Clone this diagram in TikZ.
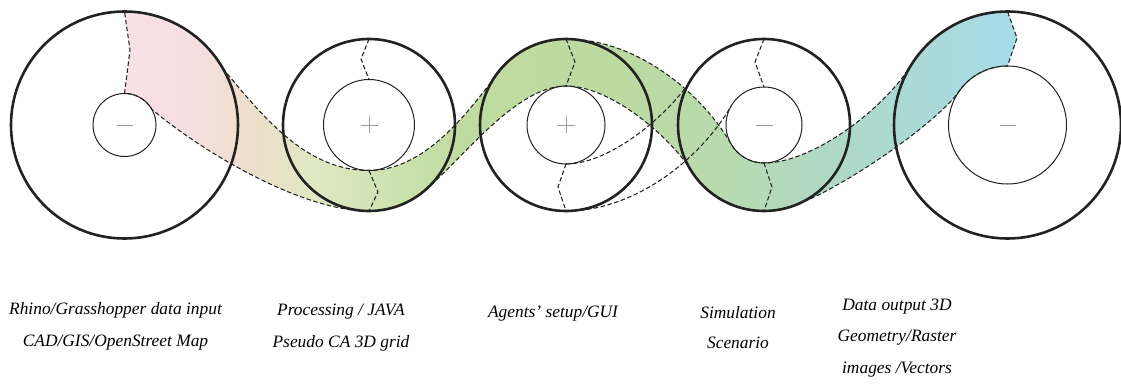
\documentclass[tikz,border=0pt]{standalone}
\usepackage{fontspec}
\setmainfont{Liberation Serif}
\definecolor{g0}{HTML}{F9E0EA}
\definecolor{g1}{HTML}{F6DFE2}
\definecolor{g2}{HTML}{EEDECB}
\definecolor{g3}{HTML}{E0E8C4}
\definecolor{g4}{HTML}{CFE4B2}
\definecolor{g5}{HTML}{C0DBA0}
\definecolor{g6}{HTML}{BCDAA0}
\definecolor{g7}{HTML}{B8DAAE}
\definecolor{g8}{HTML}{B0D9C4}
\definecolor{g9}{HTML}{AAD9D6}
\definecolor{g10}{HTML}{A6DBEB}
\definecolor{ink}{HTML}{222222}
\begin{document}
\begin{tikzpicture}[x=1pt,y=-1pt,
  outerring/.style={line width=2.6pt, draw=ink},
  innerring/.style={line width=1pt, draw=ink},
  dsh/.style={line width=1.05pt, draw=ink, dash pattern=on 4.5pt off 2.5pt},
  marker/.style={line width=0.8pt, draw=black!40},
  lbl/.style={font=\fontsize{17.4}{20}\selectfont\itshape, anchor=base, inner sep=0pt}]
\useasboundingbox (0,0) rectangle (1121,385);
\fill[white] (0,0) rectangle (1121,385);

\def\bandpath{(124.5,11.5) arc[start angle=-90,end angle=-30,radius=113.5]
 .. controls (267.8,123.3) and (309,170.5) .. (369,170.5)
 .. controls (439,170.5) and (487.7,79.8) .. (510.7,59.1)
 arc[start angle=230,end angle=270,radius=86]
 .. controls (636,39) and (701,92) .. (731.1,144)
 arc[start angle=150,end angle=90,radius=38]
 .. controls (814,163) and (885.2,107.5) .. (911.25,64.85)
 arc[start angle=212,end angle=270,radius=113.5]
 -- (1017,38) -- (1007.5,66)
 arc[start angle=270,end angle=215,radius=59]
 .. controls (936.2,124) and (838.2,191.4) .. (790.6,206.8)
 arc[start angle=72,end angle=148,radius=86]
 .. controls (669.9,136.7) and (611,86) .. (566,86)
 .. controls (516,86) and (462.6,158.7) .. (424.3,190.9)
 arc[start angle=50,end angle=90,radius=86]
 .. controls (300,211) and (200,150) .. (151.8,109.25)
 arc[start angle=-30,end angle=-90,radius=31.5]
 -- (130,50) -- cycle}

% gradient fill of the band
\begin{scope}
  \clip \bandpath;
  \shade[left color=g0, right color=g1] (100,0) rectangle (190.5,250);
  \shade[left color=g1, right color=g2] (190,0) rectangle (250.5,250);
  \shade[left color=g2, right color=g3] (250,0) rectangle (310.5,250);
  \shade[left color=g3, right color=g4] (310,0) rectangle (380.5,250);
  \shade[left color=g4, right color=g5] (380,0) rectangle (460.5,250);
  \shade[left color=g5, right color=g6] (460,0) rectangle (620.5,250);
  \shade[left color=g6, right color=g7] (620,0) rectangle (720.5,250);
  \shade[left color=g7, right color=g8] (720,0) rectangle (820.5,250);
  \shade[left color=g8, right color=g9] (820,0) rectangle (920.5,250);
  \shade[left color=g9, right color=g10] (920,0) rectangle (1030,250);
\end{scope}

% band outline
\draw[dsh] \bandpath;

% second (unfilled) band between circles 3 and 4
\draw[dsh] (566,164) .. controls (611,164) and (669.9,113.3) .. (691.1,79.4);
\draw[dsh] (566,211) .. controls (636,211) and (701,158) .. (731.1,106);

% radial markers
\draw[dsh] (369,39) -- (361,59) -- (369,79.5);
\draw[dsh] (369,170.5) -- (378,192) -- (369,211);
\draw[dsh] (566,39) -- (575,62) -- (566,86);
\draw[dsh] (566,164) -- (558,187) -- (566,211);
\draw[dsh] (764,39) -- (755,62) -- (764,87);
\draw[dsh] (764,163) -- (772,187) -- (764,211);

% circles
\draw[outerring] (124.5,125) circle[radius=113.5];
\draw[innerring] (124.5,125) circle[radius=31.5];
\draw[outerring] (369,125) circle[radius=86];
\draw[innerring] (369,125) circle[radius=45.5];
\draw[outerring] (566,125) circle[radius=86];
\draw[innerring] (566,125) circle[radius=39];
\draw[outerring] (764,125) circle[radius=86];
\draw[innerring] (764,125) circle[radius=38];
\draw[outerring] (1007.5,125) circle[radius=113.5];
\draw[innerring] (1007.5,125) circle[radius=59];

% centre markers
\draw[marker] (116.5,125) -- (132.5,125);
\draw[marker] (360.5,125) -- (377.5,125) (369,116.5) -- (369,133.5);
\draw[marker] (557.5,125) -- (574.5,125) (566,116.5) -- (566,133.5);
\draw[marker] (755.5,125) -- (772.5,125);
\draw[marker] (999.5,125) -- (1015.5,125);

% labels
\node[lbl] (t1a) at (115.5,314.3) {Rhino/Grasshopper data input};
\node[lbl] (t1b) at (115.5,346.7) {CAD/GIS/OpenStreet Map};
\node[lbl] (t2a) at (341,315) {Processing / JAVA};
\node[lbl] (t2b) at (341,347.5) {Pseudo CA 3D grid};
\node[lbl] (t3) at (553,317.5) {Agents’ setup/GUI};
\node[lbl] (t4a) at (738,318.5) {Simulation};
\node[lbl] (t4b) at (738,348) {Scenario};
\node[lbl] (t5a) at (897,310) {Data output 3D};
\node[lbl] (t5b) at (897,341.7) {Geometry/Raster};
\node[lbl] (t5c) at (897,373.3) {images /Vectors};
\end{tikzpicture}
\end{document}
